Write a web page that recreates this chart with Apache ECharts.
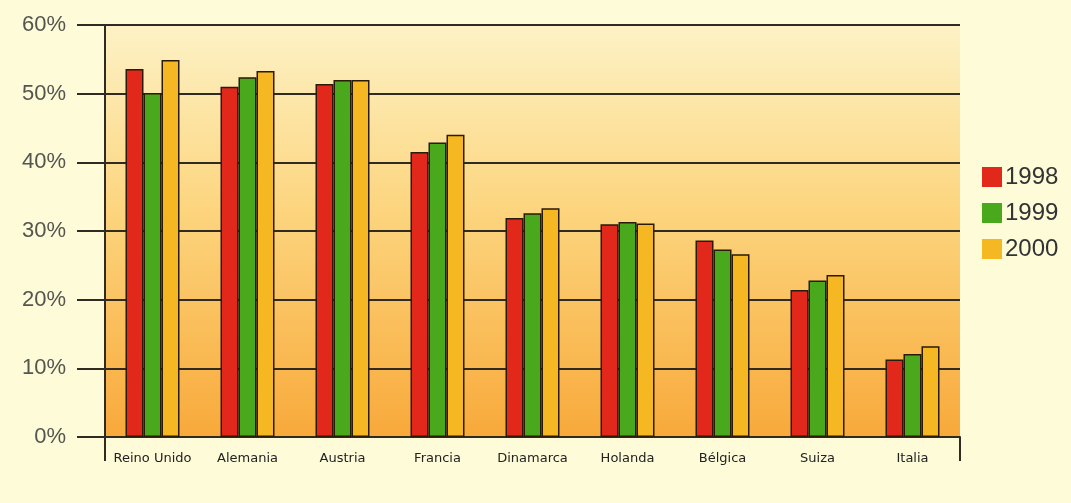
<!DOCTYPE html>
<html>
<head>
<meta charset="utf-8">
<script src="https://cdn.jsdelivr.net/npm/echarts@6/dist/echarts.min.js"></script>
<style>
  html, body { margin: 0; padding: 0; background: #fdfbd8; }
  #chart { width: 1071px; height: 503px; }
</style>
</head>
<body>
<div id="chart"></div>
<script>
// data
const countries = ["Reino Unido", "Alemania", "Austria", "Francia", "Dinamarca", "Holanda", "Bélgica", "Suiza", "Italia"];
const years = ["1998", "1999", "2000"];
const v1998 = [53.6, 51.0, 51.4, 41.5, 31.9, 31.0, 28.6, 21.4, 11.3];
const v1999 = [50.1, 52.4, 52.0, 42.9, 32.6, 31.3, 27.3, 22.8, 12.1];
const v2000 = [54.9, 53.3, 52.0, 44.0, 33.3, 31.1, 26.6, 23.6, 13.2];
const yTicks = [0, 10, 20, 30, 40, 50, 60];

const colors = ["#e2281a", "#4aa81c", "#f6b822"];
const lineColor = "#2f2a22";

const chart = echarts.init(document.getElementById("chart"));

const barStyle = (c) => ({
	color: c,
	borderColor: "#2a1a08",
	borderWidth: 1.5
});

chart.setOption({
	backgroundColor: "#fdfbd8",
	animation: false,
	grid: {
		left: 105,
		right: 111,
		top: 25,
		bottom: 66,
		show: true,
		borderWidth: 0,
		backgroundColor: new echarts.graphic.LinearGradient(0, 0, 0, 1, [
			{ offset: 0, color: "#fdf2c6" },
			{ offset: 0.45, color: "#fcd57e" },
			{ offset: 1, color: "#f8a93a" }
		])
	},
	legend: {
		orient: "vertical",
		left: 977,
		top: 160,
		icon: "rect",
		itemWidth: 20,
		itemHeight: 20,
		itemGap: 12,
		itemStyle: { borderWidth: 0 },
		textStyle: { fontFamily: "Liberation Sans", fontSize: 24, color: "#333", padding: [0, 0, 0, -2] },
		data: years
	},
	xAxis: {
		type: "category",
		data: countries,
		axisLine: { show: true, lineStyle: { color: lineColor, width: 2 } },
		axisTick: { show: false },
		axisLabel: {
			fontFamily: "DejaVu Sans",
			fontSize: 13,
			color: "#222",
			margin: 15,
			interval: 0
		}
	},
	yAxis: {
		type: "value",
		min: yTicks[0],
		max: yTicks[yTicks.length - 1],
		interval: 10,
		axisLine: { show: true, lineStyle: { color: lineColor, width: 2 } },
		axisTick: { show: true, length: 28, lineStyle: { color: lineColor, width: 2 } },
		axisLabel: {
			formatter: "{value}%",
			fontFamily: "Liberation Sans",
			fontSize: 22,
			color: "#555550",
			margin: 39
		},
		splitLine: { show: true, lineStyle: { color: lineColor, width: 2 } }
	},
	graphic: [
		{ type: "line", shape: { x1: 105, y1: 437, x2: 105, y2: 461 }, style: { stroke: lineColor, lineWidth: 2 } },
		{ type: "line", shape: { x1: 960, y1: 437, x2: 960, y2: 461 }, style: { stroke: lineColor, lineWidth: 2 } }
	],
	series: [
		{ name: years[0], type: "bar", data: v1998, barWidth: 18, barGap: "0%", itemStyle: barStyle(colors[0]) },
		{ name: years[1], type: "bar", data: v1999, barWidth: 18, barGap: "0%", itemStyle: barStyle(colors[1]) },
		{ name: years[2], type: "bar", data: v2000, barWidth: 18, barGap: "0%", itemStyle: barStyle(colors[2]) }
	]
});
</script>
</body>
</html>
